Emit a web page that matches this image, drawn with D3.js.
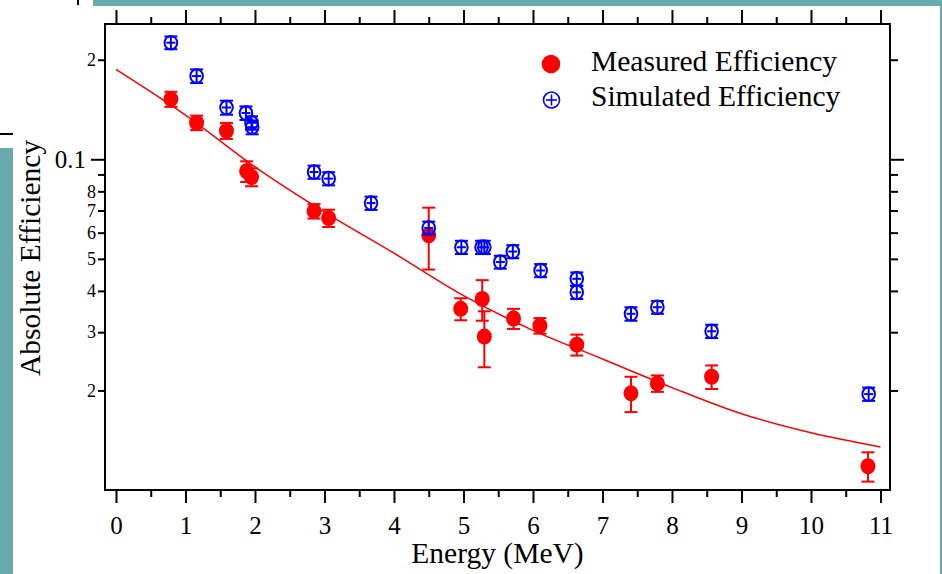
<!DOCTYPE html>
<html>
<head>
<meta charset="utf-8">
<script src="https://cdn.jsdelivr.net/npm/d3@7"></script>
<style>
  body { margin: 0; background: #fff; }
  svg { display: block; font-family: "Liberation Serif", "Times New Roman", serif; }
</style>
</head>
<body>
<div id="chart"></div>
<script>
// Measured efficiency (red dots)
let measE   = [0.79, 1.16, 1.59, 1.88, 1.95, 2.85, 3.06, 4.50, 4.96, 5.27, 5.30, 5.72, 6.10, 6.63, 7.41, 7.79, 8.57, 10.82]
let measV   = [0.152, 0.129, 0.122, 0.092, 0.0884, 0.0697, 0.0664, 0.0589, 0.0353, 0.0378, 0.0291, 0.0330, 0.0314, 0.0275, 0.0196, 0.0210, 0.0220, 0.0118]
let measErr = [0.008, 0.0065, 0.0068, 0.0066, 0.0055, 0.0035, 0.004, 0.0125, 0.0027, 0.0053, 0.0056, 0.0023, 0.0017, 0.002, 0.0024, 0.0012, 0.0018, 0.0012]

// Simulated efficiency (blue crossed circles)
let simE   = [0.79, 1.16, 1.59, 1.87, 1.95, 1.96, 2.85, 3.06, 3.67, 4.50, 4.97, 5.26, 5.30, 5.53, 5.71, 6.11, 6.63, 6.63, 7.41, 7.79, 8.57, 10.83]
let simV   = [0.2252, 0.1785, 0.1434, 0.138, 0.1289, 0.125, 0.0915, 0.0874, 0.0737, 0.062, 0.0542, 0.0542, 0.0542, 0.0489, 0.0526, 0.0461, 0.0435, 0.0396, 0.0341, 0.0357, 0.0302, 0.0195]
let simErr = [0.010, 0.0085, 0.007, 0.0065, 0.006, 0.006, 0.0042, 0.004, 0.0034, 0.0028, 0.0025, 0.0025, 0.0025, 0.0022, 0.0024, 0.0021, 0.002, 0.0018, 0.0016, 0.0016, 0.0014, 0.0009]

// Fit curve through measured points
let fitE = [0, 1, 2, 3, 4, 5, 6, 7, 8, 9, 10, 11]
let fitV = [0.187, 0.136, 0.0948, 0.0692, 0.052, 0.0387, 0.0304, 0.0249, 0.0204, 0.0170, 0.0149, 0.0135]

// Tick values
let xMajor = [0, 1, 2, 3, 4, 5, 6, 7, 8, 9, 10, 11]
let xMinor = [0.5, 1.5, 2.5, 3.5, 4.5, 5.5, 6.5, 7.5, 8.5, 9.5, 10.5]
let yMajor = [0.1]
let yMinor = [0.02, 0.03, 0.04, 0.05, 0.06, 0.07, 0.08, 0.09, 0.2]
let yMinorLabels = { 0.02: '2', 0.03: '3', 0.04: '4', 0.05: '5', 0.06: '6', 0.07: '7', 0.08: '8', 0.2: '2' }

let svgWidth = 942, svgHeight = 574
let margin = { top: 24, right: 52, bottom: 84, left: 105 }
let width = svgWidth - margin.left - margin.right
let height = svgHeight - margin.top - margin.bottom
let teal = '#67a9ad'

let svg = d3.select('#chart')
    .append('svg')
    .attr('width', svgWidth)
    .attr('height', svgHeight)

// Slide frame decoration
svg.append('rect').attr('x', 93).attr('y', 0).attr('width', 849).attr('height', 6).attr('fill', teal)
svg.append('rect').attr('x', 0).attr('y', 148).attr('width', 13).attr('height', 426).attr('fill', teal)
svg.append('rect').attr('x', 940).attr('y', 0).attr('width', 2).attr('height', 574).attr('fill', teal)
svg.append('rect').attr('x', 77).attr('y', 0).attr('width', 2).attr('height', 5).attr('fill', '#000')
svg.append('rect').attr('x', 0).attr('y', 133).attr('width', 13).attr('height', 2).attr('fill', '#000')

let g = svg.append('g')
    .attr('transform', 'translate(' + margin.left + ',' + margin.top + ')')

let x = d3.scaleLinear()
    .domain([-0.158, 11.137])
    .range([0, width])

let y = d3.scaleLog()
    .domain([0.01, 0.2565])
    .range([height, 0])

// Axes: ticks point outward on all four sides
let styleAxis = sel => {
    sel.select('.domain').remove()
    sel.selectAll('line').attr('stroke', '#000').attr('stroke-width', 2)
}

g.append('g').attr('transform', 'translate(0,' + height + ')')
    .call(d3.axisBottom(x).tickValues(xMajor).tickSize(13).tickFormat(d3.format('d')))
    .call(styleAxis)
    .selectAll('text')
    .attr('y', 44).attr('dy', 0)
    .attr('font-size', 25).attr('font-family', 'Liberation Serif').attr('fill', '#000')
g.append('g').attr('transform', 'translate(0,' + height + ')')
    .call(d3.axisBottom(x).tickValues(xMinor).tickSize(7).tickFormat(''))
    .call(styleAxis)
g.append('g')
    .call(d3.axisTop(x).tickValues(xMajor).tickSize(14).tickFormat(''))
    .call(styleAxis)
g.append('g')
    .call(d3.axisTop(x).tickValues(xMinor).tickSize(7).tickFormat(''))
    .call(styleAxis)

g.append('g')
    .call(d3.axisLeft(y).tickValues(yMajor).tickSize(14).tickPadding(5).tickFormat(d => '0.1'))
    .call(styleAxis)
    .selectAll('text')
    .attr('font-size', 25).attr('font-family', 'Liberation Serif').attr('fill', '#000')
g.append('g')
    .call(d3.axisLeft(y).tickValues(yMinor).tickSize(7).tickPadding(2).tickFormat(d => yMinorLabels[d] || ''))
    .call(styleAxis)
    .selectAll('text')
    .attr('font-size', 18).attr('font-family', 'Liberation Serif').attr('fill', '#000')
g.append('g').attr('transform', 'translate(' + width + ',0)')
    .call(d3.axisRight(y).tickValues(yMajor).tickSize(14).tickFormat(''))
    .call(styleAxis)
g.append('g').attr('transform', 'translate(' + width + ',0)')
    .call(d3.axisRight(y).tickValues(yMinor).tickSize(8).tickFormat(''))
    .call(styleAxis)

// Frame lines
g.append('rect')
    .attr('x', 0).attr('y', 0)
    .attr('width', width).attr('height', height)
    .attr('fill', 'none').attr('stroke', '#000').attr('stroke-width', 2)

// Axis titles
g.append('text')
    .attr('x', width / 2).attr('y', height + 73)
    .attr('text-anchor', 'middle')
    .attr('font-size', 29.5).attr('fill', '#000')
    .text('Energy (MeV)')
g.append('text')
    .attr('transform', 'translate(' + (40 - margin.left) + ',' + (height / 2 + 1) + ') rotate(-90)')
    .attr('text-anchor', 'middle')
    .attr('font-size', 29.5).attr('fill', '#000')
    .text('Absolute Efficiency')

// Fit line
let line = d3.line()
    .x(d => x(d[0]))
    .y(d => y(d[1]))
    .curve(d3.curveCatmullRom)
g.append('path')
    .datum(d3.zip(fitE, fitV))
    .attr('fill', 'none')
    .attr('stroke', '#ff0000')
    .attr('stroke-width', 1.5)
    .attr('d', line)

// Error bar helper
let errorBars = (rows, color, capW) => {
    let eg = g.append('g').attr('stroke', color).attr('stroke-width', 2)
    rows.forEach(d => {
        let cx = x(d[0])
        eg.append('line').attr('x1', cx).attr('x2', cx).attr('y1', y(d[1] - d[2])).attr('y2', y(d[1] + d[2]))
        eg.append('line').attr('x1', cx - capW).attr('x2', cx + capW).attr('y1', y(d[1] - d[2])).attr('y2', y(d[1] - d[2]))
        eg.append('line').attr('x1', cx - capW).attr('x2', cx + capW).attr('y1', y(d[1] + d[2])).attr('y2', y(d[1] + d[2]))
    })
}

// Measured points
let measRows = d3.zip(measE, measV, measErr)
errorBars(measRows, '#ff0000', 6.5)
g.append('g').selectAll('ellipse')
    .data(measRows)
    .enter().append('ellipse')
    .attr('cx', d => x(d[0]))
    .attr('cy', d => y(d[1]))
    .attr('rx', 7.5).attr('ry', 8)
    .attr('fill', '#ff0000')

// Simulated points
let simRows = d3.zip(simE, simV, simErr)
errorBars(simRows, '#0000ff', 6.5)
let simG = g.append('g').attr('stroke', '#0000ff').attr('stroke-width', 2).attr('fill', 'none')
simRows.forEach(d => {
    let cx = x(d[0]), cy = y(d[1])
    simG.append('ellipse').attr('cx', cx).attr('cy', cy).attr('rx', 6.3).attr('ry', 6.8)
    simG.append('line').attr('x1', cx - 4.5).attr('x2', cx + 4.5).attr('y1', cy).attr('y2', cy)
})

// Legend
let lg = svg.append('g')
lg.append('circle').attr('cx', 551).attr('cy', 64).attr('r', 9.3).attr('fill', '#ff0000')
lg.append('circle').attr('cx', 551.5).attr('cy', 100).attr('r', 8).attr('fill', 'none').attr('stroke', '#0000ff').attr('stroke-width', 1.6)
lg.append('line').attr('x1', 546).attr('x2', 557).attr('y1', 100).attr('y2', 100).attr('stroke', '#0000ff').attr('stroke-width', 1.6)
lg.append('line').attr('x1', 551.5).attr('x2', 551.5).attr('y1', 94.5).attr('y2', 105.5).attr('stroke', '#0000ff').attr('stroke-width', 1.6)
lg.append('text').attr('x', 591).attr('y', 71).attr('font-size', 29.5).attr('fill', '#000').text('Measured Efficiency')
lg.append('text').attr('x', 591).attr('y', 106).attr('font-size', 29.5).attr('fill', '#000').text('Simulated Efficiency')
</script>
</body>
</html>
